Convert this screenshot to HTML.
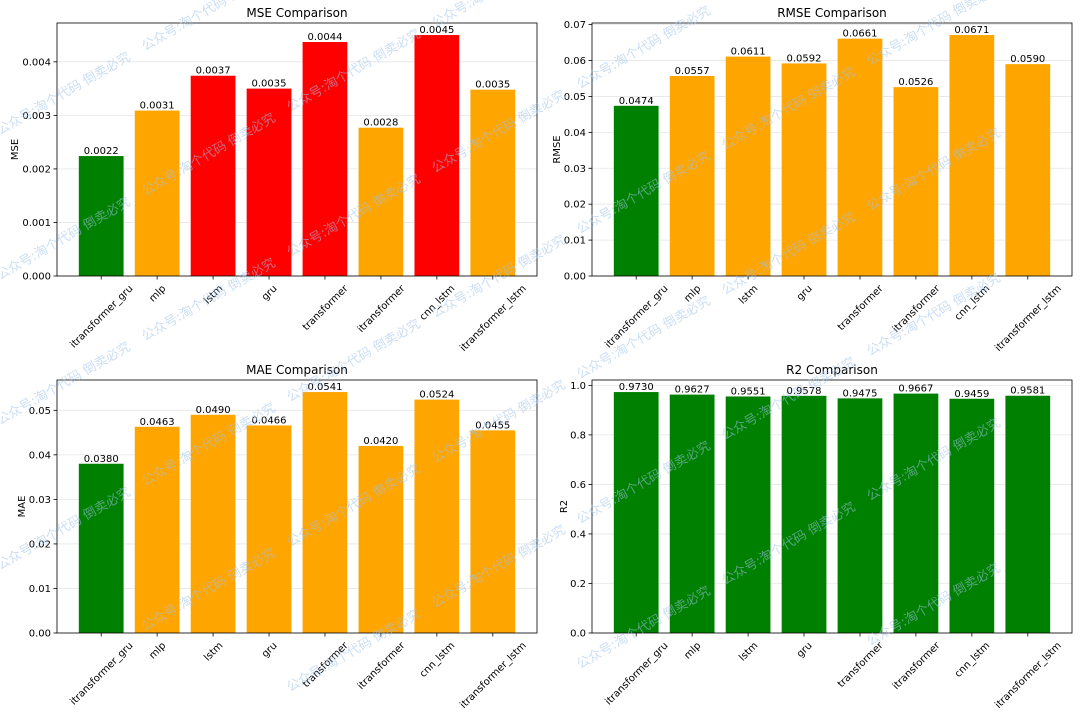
<!DOCTYPE html>
<html><head><meta charset="utf-8"><style>
html,body{margin:0;background:#fff;overflow:hidden;width:1080px;height:718px;}
svg{display:block;overflow:hidden;}
svg text{font-family:"DejaVu Sans","Liberation Sans","Noto Sans CJK SC",sans-serif;}
</style></head><body>
<svg id="c" width="1080" height="718" xmlns="http://www.w3.org/2000/svg"></svg>
<script>
const categories=["itransformer_gru","mlp","lstm","gru","transformer","itransformer","cnn_lstm","itransformer_lstm"];
const mseValues=[0.00224,0.00309,0.00374,0.0035,0.00437,0.00277,0.0045,0.00348];
const rmseValues=[0.0474,0.0557,0.0611,0.0592,0.0661,0.0526,0.0671,0.0590];
const maeValues=[0.0380,0.0463,0.0490,0.0466,0.0541,0.0420,0.0524,0.0455];
const r2Values=[0.9730,0.9627,0.9551,0.9578,0.9475,0.9667,0.9459,0.9581];
const mseColors=["green","orange","red","red","red","orange","red","orange"];
const rmseColors=["green","orange","orange","orange","orange","orange","orange","orange"];
const maeColors=["green","orange","orange","orange","orange","orange","orange","orange"];
const r2Colors=["green","green","green","green","green","green","green","green"];
const mseTicks=[0,0.001,0.002,0.003,0.004];
const rmseTicks=[0,0.01,0.02,0.03,0.04,0.05,0.06,0.07];
const maeTicks=[0,0.01,0.02,0.03,0.04,0.05];
const r2Ticks=[0,0.2,0.4,0.6,0.8,1.0];
const NS="http://www.w3.org/2000/svg";
const svg=document.getElementById('c');
function mk(tag,attrs,parent){const e=document.createElementNS(NS,tag);for(const k in attrs)e.setAttribute(k,attrs[k]);(parent||svg).appendChild(e);return e;}
function panel(key,title,ylabel,vals,cols,ticks,tdec,left,top,name){
  const W=480,H=253,right=left+W,bottom=top+H;
  const g=mk('g',{});
  
  
  const ymax=Math.max(...vals)*1.05;
  const y=v=>bottom-v/ymax*H;
  const n=categories.length, span=(n-1)+0.8+0.1*(n-1+0.8);
  const x=i=>left+(i+0.4+0.05*(n-1+0.8))/span*W;
  const bw=0.8/span*W;
  ticks.forEach(t=>{
    const gl=mk('line',{x1:left,x2:right,y1:y(t),y2:y(t),stroke:'#e6e6e6','stroke-width':0.8},g);
    
    
    mk('line',{x1:left-3.5,x2:left,y1:y(t),y2:y(t),stroke:'#000','stroke-width':0.8},g);
    const tl=mk('text',{x:left-6,y:y(t)+3.5,'text-anchor':'end','font-size':10},g);
    tl.textContent=t.toFixed(tdec);
    
    
  });
  vals.forEach((v,i)=>{
    const b=mk('rect',{x:x(i)-bw/2,y:y(v),width:bw,height:bottom-y(v),fill:cols[i]},g);
    
    
    const vl=mk('text',{x:x(i),y:y(v)-2,'text-anchor':'middle','font-size':10},g);
    vl.textContent=v.toFixed(4);
    
    
    mk('line',{x1:x(i),x2:x(i),y1:bottom,y2:bottom+3.5,stroke:'#000','stroke-width':0.8},g);
    const xl=mk('text',{x:0,y:3.5,'text-anchor':'middle','font-size':10},g);
    xl.textContent=categories[i];
    
    
    const w=xl.getComputedTextLength();
    const bh=(w+10)*0.7071;
    xl.setAttribute('transform',`translate(${x(i)},${bottom+7+bh/2}) rotate(-45)`);
  });
  mk('rect',{x:left,y:top,width:W,height:H,fill:'none',stroke:'#000','stroke-width':0.8},g);
  const tt=mk('text',{x:left+W/2,y:top-6,'text-anchor':'middle','font-size':12},g);
  tt.textContent=title;
  
  
  const yl=mk('text',{x:0,y:0,'text-anchor':'middle','font-size':10,transform:`translate(${left-tdec*7-18},${top+H/2}) rotate(-90)`},g);
  yl.textContent=ylabel;
  
  
}
panel('mse','MSE Comparison','MSE',mseValues,mseColors,mseTicks,3,57,23,'mse-chart');
panel('rmse','RMSE Comparison','RMSE',rmseValues,rmseColors,rmseTicks,2,592,23,'rmse-chart');
panel('mae','MAE Comparison','MAE',maeValues,maeColors,maeTicks,2,57,380,'mae-chart');
panel('r2','R2 Comparison','R2',r2Values,r2Colors,r2Ticks,1,592,380,'r2-chart');
// watermarks
const wm=mk('g',{opacity:0.55});


for(let r=-2;r<9;r++){for(let c=-1;c<9;c++){
  const px=c*145, py=r*145+c*-84+280;
  if(py<10||py>712||px<0||px>1000)continue;
  const t=mk('text',{x:0,y:0,'font-size':13,fill:'#9fc3ea',transform:`translate(${px},${py}) rotate(-30)`},wm);
  t.textContent='公众号:淘个代码  倒卖必究';
}}
</script>
</body></html>
